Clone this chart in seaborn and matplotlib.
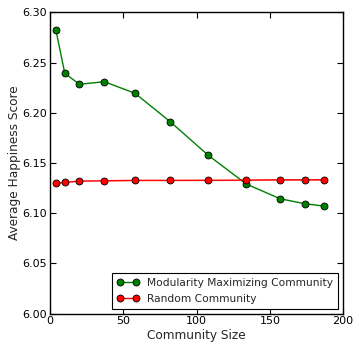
import numpy as np
import pandas as pd
import matplotlib
matplotlib.use("Agg")
import matplotlib.pyplot as plt
import seaborn as sns

# community sizes and average happiness scores
community_size = [4, 10, 20, 37, 58, 82, 108, 134, 157, 174, 187]
modularity_happiness = [6.282, 6.2394, 6.2284, 6.2310, 6.2194, 6.1911,
                        6.1576, 6.1290, 6.1144, 6.1094, 6.1071]
random_happiness = [6.1297, 6.1307, 6.1320, 6.1323, 6.1327, 6.1327,
                    6.1328, 6.1330, 6.1333, 6.1333, 6.1333]
random_spread = [0.0001, 0.0001, 0.0002, 0.0002, 0.0003, 0.0003,
                 0.0004, 0.0005, 0.0005, 0.0005, 0.0005]

df = pd.DataFrame({
    "size": community_size,
    "modularity": modularity_happiness,
    "random": random_happiness,
    "spread": random_spread,
})

sns.set_style("white")
plt.rcParams['font.family'] = ['DejaVu Sans']
plt.rcParams['xtick.direction'] = 'in'
plt.rcParams['ytick.direction'] = 'in'

fig = plt.figure(figsize=(3.53, 3.45), dpi=100)
ax = fig.add_axes([0.142, 0.091, 0.830, 0.873])

ax.fill_between(df["size"], df["random"] - df["spread"], df["random"] + df["spread"],
                color='#ff8080', lw=0)
sns.lineplot(data=df, x="size", y="modularity", ax=ax, color='green', lw=1,
             marker='o', markersize=5, markeredgecolor='black', markeredgewidth=0.6,
             label='Modularity Maximizing Community')
sns.lineplot(data=df, x="size", y="random", ax=ax, color='red', lw=1,
             marker='o', markersize=5, markeredgecolor='black', markeredgewidth=0.6,
             label='Random Community')

ax.set_xlim(0, 200)
ax.set_ylim(6.00, 6.30)
ax.set_xticks([0, 50, 100, 150, 200])
ax.set_yticks([6.00, 6.05, 6.10, 6.15, 6.20, 6.25, 6.30])
ax.set_yticklabels(['6.00', '6.05', '6.10', '6.15', '6.20', '6.25', '6.30'])
ax.tick_params(axis='both', which='both', direction='in', top=True, right=True,
               bottom=True, left=True, length=4, width=0.8, labelsize=8, pad=2,
               colors='black')
for s in ax.spines.values():
    s.set_color('black')
    s.set_linewidth(1)

ax.set_xlabel('Community Size', fontsize=8.7, labelpad=2)
ax.set_ylabel('Average Happiness Score', fontsize=8.7, labelpad=1)

leg = ax.legend(loc='lower right', fontsize=7.7, numpoints=2, fancybox=False,
                framealpha=1, borderaxespad=0.45, handlelength=2.07, handletextpad=0.82,
                borderpad=0.45, labelspacing=0.55)
leg.get_frame().set_edgecolor('black')
leg.get_frame().set_linewidth(0.8)

fig.savefig('out.png', dpi=100)
